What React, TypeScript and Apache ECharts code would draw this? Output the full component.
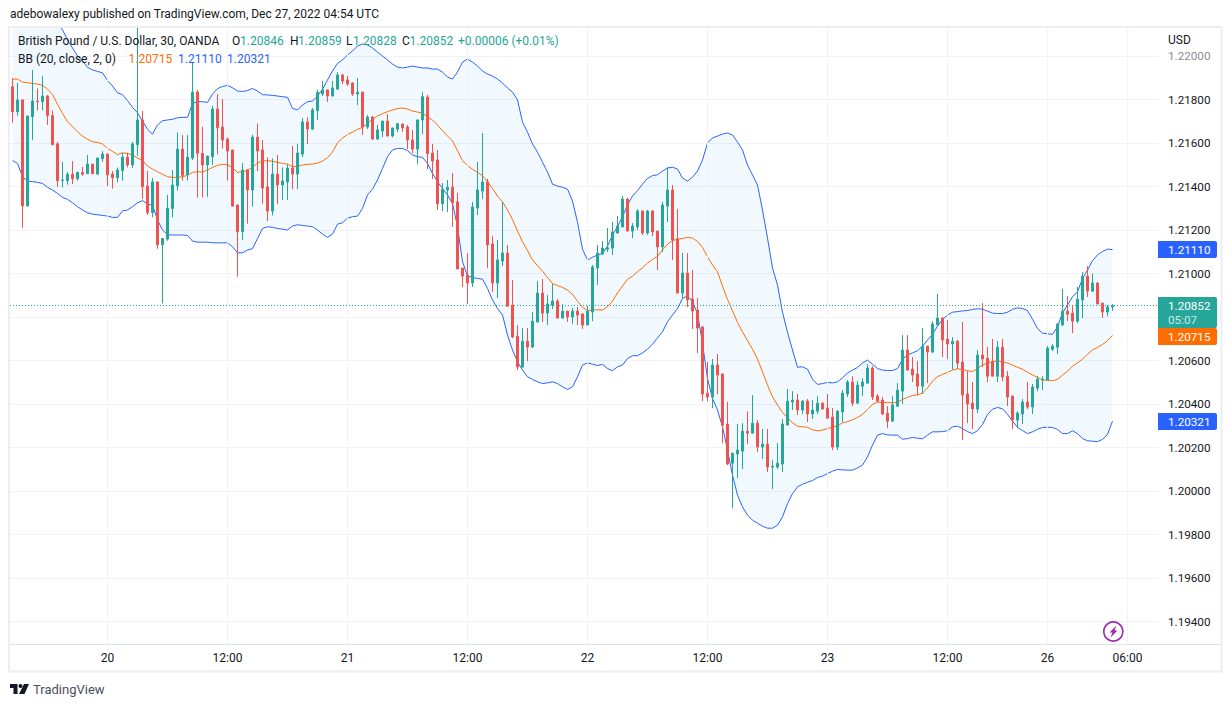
import React, { useEffect, useRef } from "react";
import * as echarts from "echarts";

// All prices are stored as the five digits after "1." scaled: 21859 means 1.21859.
const candles: number[][] = [
  // open, close, low, high
  [21859,21744,21693,21897],[21744,21798,21725,21877],[21798,21311,21210,21800],[21311,21724,21307,21726],[21721,21793,21614,21936],
  [21793,21790,21749,21851],[21790,21816,21749,21908],[21816,21726,21683,21821],[21726,21592,21590,21749],[21596,21427,21398,21605],
  [21427,21430,21395,21513],[21427,21456,21408,21467],[21456,21436,21411,21517],[21436,21465,21427,21468],[21465,21456,21450,21491],
  [21459,21503,21457,21545],[21503,21459,21458,21504],[21457,21531,21453,21532],[21528,21549,21514,21563],[21549,21454,21402,21550],
  [21457,21440,21390,21471],[21440,21476,21419,21487],[21473,21535,21427,21555],[21535,21499,21488,21555],[21499,21596,21486,21605],
  [21592,21706,21540,22140],[21706,21399,21343,21747],[21402,21280,21269,21471],[21280,21421,21258,21439],[21421,21132,21114,21422],
  [21132,21161,20862,21162],[21158,21301,21150,21361],[21299,21407,21258,21476],[21403,21572,21381,21649],[21572,21451,21427,21637],
  [21454,21535,21427,21637],[21531,21834,21522,21972],[21834,21553,21349,21844],[21552,21499,21349,21675],[21499,21540,21353,21541],
  [21537,21756,21499,21770],[21756,21670,21548,21825],[21673,21614,21574,21802],[21618,21563,21427,21626],[21568,21310,21307,21568],
  [21315,21192,20985,21319],[21192,21476,21154,21508],[21476,21384,21229,21480],[21384,21627,21307,21637],[21627,21563,21471,21690],
  [21568,21393,21321,21614],[21398,21287,21241,21534],[21287,21457,21267,21529],[21457,21407,21319,21545],[21407,21425,21338,21488],
  [21421,21485,21338,21503],[21485,21457,21388,21586],[21457,21554,21388,21596],[21549,21697,21535,21715],[21697,21664,21595,21719],
  [21664,21752,21660,21761],[21749,21833,21706,21844],[21825,21844,21816,21885],[21844,21816,21789,21845],[21816,21853,21815,21885],
  [21848,21913,21844,21926],[21913,21885,21871,21917],[21890,21871,21862,21908],[21876,21825,21816,21880],[21825,21834,21775,21899],
  [21834,21673,21637,21835],[21673,21719,21664,21729],[21719,21618,21614,21724],[21618,21660,21614,21683],[21655,21701,21627,21702],
  [21701,21632,21631,21733],[21632,21669,21626,21670],[21664,21689,21651,21692],[21687,21669,21651,21690],[21674,21614,21572,21683],
  [21614,21572,21554,21660],[21572,21706,21503,21708],[21706,21813,21641,21834],[21811,21552,21480,21821],[21554,21517,21434,21596],
  [21522,21320,21292,21568],[21320,21388,21287,21416],[21384,21397,21283,21430],[21397,21324,21214,21462],[21329,21021,21020,21370],
  [21025,20988,20938,21026],[20993,20956,20860,21094],[20956,21306,20938,21329],[21301,21384,21269,21513],[21379,21421,21343,21646],
  [21421,21131,21025,21435],[21136,20956,20915,21172],[20956,21062,20887,21154],[21057,21094,21034,21329],[21094,20850,20849,21131],
  [20855,20708,20703,20970],[20712,20570,20556,20763],[20570,20689,20565,20749],[20689,20662,20597,20749],[20662,20781,20657,20823],
  [20777,20910,20776,20965],[20910,20818,20777,20975],[20818,20860,20763,20901],[20855,20873,20837,20952],[20873,20795,20794,20883],
  [20795,20827,20794,20859],[20827,20800,20777,20828],[20800,20827,20768,20841],[20827,20809,20763,20846],[20814,20763,20745,20818],
  [20763,20827,20762,20850],[20823,21030,20781,21039],[21025,21094,20947,21131],[21090,21117,21085,21149],[21111,21118,21099,21209],
  [21117,21191,21085,21237],[21186,21218,21185,21264],[21214,21342,21213,21356],[21342,21195,21194,21347],[21195,21218,21163,21232],
  [21214,21287,21200,21296],[21287,21186,21177,21288],[21186,21287,21177,21292],[21287,21191,21172,21292],[21195,21122,21016,21196],
  [21122,21315,21099,21329],[21310,21384,21237,21489],[21384,21154,21062,21407],[21159,20910,20909,21296],[20910,21002,20887,21094],
  [21002,20878,20846,21094],[20883,20827,20745,21016],[20832,20749,20634,20887],[20754,20446,20413,20758],[20450,20432,20413,20593],
  [20432,20579,20381,20607],[20579,20533,20445,20630],[20538,20303,20220,20539],[20308,20124,20119,20409],[20128,20174,19921,20175],
  [20170,20188,20059,20308],[20183,20275,20101,20312],[20275,20266,20216,20367],[20266,20312,20265,20441],[20312,20202,20179,20326],
  [20202,20216,20147,20285],[20216,20110,20087,20285],[20110,20114,20009,20142],[20110,20128,20101,20220],[20124,20308,20087,20331],
  [20303,20413,20302,20469],[20409,20418,20372,20459],[20418,20372,20349,20446],[20372,20413,20354,20418],[20413,20354,20317,20423],
  [20354,20372,20331,20418],[20367,20404,20354,20436],[20404,20377,20376,20409],[20381,20335,20334,20446],[20340,20202,20188,20381],
  [20202,20367,20188,20372],[20363,20450,20317,20464],[20446,20501,20432,20510],[20501,20404,20390,20528],[20404,20487,20403,20505],
  [20482,20501,20436,20519],[20496,20565,20495,20584],[20565,20432,20418,20574],[20436,20413,20412,20446],[20418,20354,20349,20432],
  [20358,20321,20289,20390],[20321,20395,20320,20436],[20390,20464,20389,20496],[20459,20648,20400,20717],[20648,20556,20555,20717],
  [20561,20533,20501,20616],[20538,20482,20441,20597],[20482,20666,20446,20749],[20666,20639,20496,20667],[20639,20768,20634,20781],
  [20763,20795,20762,20906],[20795,20694,20616,20800],[20699,20676,20607,20786],[20676,20689,20559,20708],[20689,20588,20561,20694],
  [20593,20441,20234,20777],[20446,20400,20312,20551],[20404,20377,20285,20501],[20377,20625,20358,20648],[20625,20607,20570,20864],
  [20611,20528,20501,20662],[20593,20528,20527,20699],[20528,20661,20501,20689],[20661,20524,20505,20699],[20528,20432,20390,20551],
  [20436,20326,20285,20440],[20326,20358,20289,20367],[20354,20409,20308,20423],[20409,20386,20377,20501],[20386,20478,20354,20492],
  [20473,20514,20459,20528],[20510,20514,20464,20528],[20510,20657,20509,20666],[20652,20666,20643,20675],[20661,20767,20630,20772],
  [20763,20827,20762,20929],[20827,20813,20781,20896],[20818,20781,20726,20855],[20781,20882,20772,20938],[20878,20988,20795,21007],
  [20988,20919,20892,21034],[20919,20956,20915,20998],[20956,20860,20859,20961],[20864,20823,20795,20865],[20823,20846,20804,20855],
  [20846,20852,20828,20859],
];

const bbUpper = [
  22180,22190,22210,22220,22220,22215,22210,22200,22185,22156,22120,22074,22037,22000,
  21978,21948,21936,21929,21923,21887,21862,21831,21822,21795,21764,21739,21702,21663,21641,21683,21702,21706,21709,21716,21718,21718,21782,21790,
  21790,21787,21825,21850,21860,21865,21854,21839,21837,21841,21851,21839,21822,21821,21819,21816,21813,21810,21759,21752,21775,21790,21793,21816,21847,21890,
  21931,21966,21982,22005,22023,22046,22055,22051,22037,22018,22000,21982,21963,21949,21945,21949,21954,21949,21945,21945,21940,21940,21926,21903,21894,21926,21972,21986,21972,21954,21931,21917,21908,21894,21876,21853,21834,21798,21696,21650,21595,21558,21512,21466,21411,21402,21397,21388,21333,21236,21112,21062,21075,21085,
  21092,21126,21177,21215,21261,21315,21356,21381,21411,21437,21450,21454,21471,21485,21489,21480,21439,21425,21443,21471,21522,21600,21623,21632,21641,21646,21637,21604,21568,21499,21453,21407,21292,21163,21025,20947,20822,20730,20648,20569,
  20571,20560,20514,20490,20494,20499,20497,20502,20520,20543,20556,20568,20589,20602,20583,20563,20556,20554,20554,20563,20605,20626,20635,20645,20666,20694,20720,20758,20789,20809,20822,20825,
  20828,20830,20835,20838,20836,20827,20818,20816,20816,20822,20835,20842,20839,20830,20790,20747,20726,20723,20720,20755,20819,20855,20893,20916,20977,21016,21059,21085,21101,21112,21110,
];

const bbBasis = [
  21894,21894,21880,21877,21874,21871,21865,21848,21824,21778,21736,21698,21675,21652,21632,21617,21606,21603,21595,21575,21562,21546,21555,21552,21545,21531,21520,21494,21480,21468,21456,21445,21442,21442,21445,21451,21465,21468,
  21466,21476,21488,21497,21502,21500,21486,21465,21468,21474,21488,21508,21517,21519,21516,21511,21506,21503,21491,21492,21499,21502,21503,21508,21517,21532,21558,21601,21623,21640,21650,21663,21672,21690,21709,21724,21735,21744,21752,21758,
  21761,21756,21747,21742,21738,21719,21706,21683,21656,21632,21609,21565,21519,21496,21479,21465,21450,21422,21391,21356,21330,21292,21249,21195,21146,21105,21062,21036,21011,20982,20954,20945,20936,20924,20904,20873,20844,20830,20832,20833,
  20832,20847,20873,20911,20942,20973,20988,21008,21026,21048,21065,21078,21108,21135,21151,21158,21161,21166,21163,21147,21120,21077,21039,21008,20942,20881,20829,20775,20732,20691,20652,20606,20548,20487,20433,20395,20361,20338,20313,20298,
  20295,20293,20281,20277,20280,20287,20293,20300,20313,20319,20327,20338,20352,20375,20398,20408,20407,20407,20405,20408,20421,20431,20439,20442,20450,20474,20505,20526,20536,20545,20556,20562,
  20559,20553,20549,20563,20579,20589,20595,20598,20595,20588,20579,20569,20560,20546,20534,20522,20511,20508,20507,20513,20533,20551,20574,20589,20606,20629,20649,20660,20674,20691,20715,
];

const bbLower = [
  21520,21506,21445,21425,21422,21419,21414,21396,21384,21368,21350,21341,21325,21307,21292,21279,21273,21270,21267,21264,21258,21258,21288,21292,21307,21325,21335,21319,21313,21246,21200,21178,21177,21177,21177,21175,21149,21144,
  21144,21144,21141,21141,21141,21141,21123,21095,21095,21108,21114,21161,21207,21215,21212,21207,21204,21200,21218,21224,21221,21218,21215,21200,21181,21166,21181,21227,21233,21255,21261,21264,21299,21361,21387,21430,21483,21537,21568,21575,
  21575,21565,21545,21537,21534,21506,21460,21422,21391,21361,21322,21215,21054,20988,20982,20977,20974,20931,20878,20839,20809,20717,20648,20594,20556,20525,20513,20502,20494,20497,20502,20494,20479,20467,20479,20525,20579,20589,20583,20577,
  20582,20563,20553,20571,20579,20609,20622,20622,20635,20652,20675,20704,20732,20778,20809,20839,20885,20898,20870,20816,20678,20517,20425,20372,20295,20188,20073,19981,19927,19889,19866,19852,19838,19829,19829,19843,19881,19942,19988,20019,
  20031,20040,20048,20062,20068,20080,20091,20099,20097,20096,20096,20106,20119,20157,20211,20257,20264,20258,20257,20257,20238,20241,20246,20243,20240,20257,20272,20272,20273,20277,20295,20298,
  20287,20273,20264,20277,20306,20352,20376,20384,20378,20352,20321,20292,20278,20264,20272,20284,20292,20293,20292,20283,20264,20264,20277,20264,20241,20231,20229,20227,20237,20260,20321,
];

const priceTicks = [1.194,1.196,1.198,1.2,1.202,1.204,1.206,1.208,1.21,1.212,1.214,1.216,1.218,1.22];
// 1.20800 sits behind the last-price tag in the reference, so it has a grid line but no label.
const priceLabels = [1.194,1.196,1.198,1.2,1.202,1.204,1.206,1.21,1.212,1.214,1.216,1.218,1.22];
const timeTickBars = [19,43,67,91,115,139,163,187,207,223];
const timeTickLabels = ["20","12:00","21","12:00","22","12:00","23","12:00","26","06:00"];
const barSlots = 230;

const lastClose = 1.20852;
const basisLast = 1.20715;
const upperLast = 1.2111;
const lowerLast = 1.20321;

const toPrice = (n: number) => 1 + n / 100000;

const FONT = "Roboto, Open Sans, sans-serif";
const UP = "#26a69a";
const DOWN = "#ef5350";
const BLUE = "#2962ff";
const ORANGE = "#ff6d00";
const INK = "#131722";
const GRID = "#f0f3fa";

// Plot box in the page
const LEFT = 10, TOP = 28, WIDTH = 1150, BOTTOM_Y = 644;
const PX_PER_UNIT = 21750;
const yMax = 1.22 + (56 - TOP) / PX_PER_UNIT;
const yMin = 1.22 - (BOTTOM_Y - 56) / PX_PER_UNIT;

const txt = (text: string, x: number, y: number, fill: string, extra: any = {}) => ({
  type: "text", x, y, z: 120, silent: true,
  style: { text, fill, font: `${extra.size || 12}px ${FONT}`, textVerticalAlign: "middle", textAlign: extra.align || "left", opacity: extra.opacity ?? 1 },
});

const tag = (y: number, h: number, color: string) => ({
  type: "rect", z: 110, silent: true,
  shape: { x: 1158, y, width: 59, height: h, r: [0, 2, 2, 0] },
  style: { fill: color },
});

export default function App() {
  const ref = useRef<HTMLDivElement>(null);
  useEffect(() => {
    const chart = echarts.init(ref.current!, undefined, { renderer: "svg" });
    const upper = bbUpper.map(toPrice);
    const lower = bbLower.map(toPrice);
    const lineSeries = (name: string, data: number[], color: string) => ({
      name, type: "line", data, symbol: "none", z: 3, silent: true,
      lineStyle: { color, width: 1 }, itemStyle: { color },
    });
    chart.setOption({
      animation: false,
      grid: { left: LEFT, top: TOP, width: WIDTH, height: BOTTOM_Y - TOP, containLabel: false },
      xAxis: {
        type: "category",
        data: Array.from({ length: barSlots }, (_, i) => String(i)),
        boundaryGap: true,
        axisLine: { show: true, lineStyle: { color: "#e0e3eb", width: 1 } },
        axisTick: { show: false },
        splitLine: { show: false },
        axisLabel: {
          margin: 8, color: INK, fontFamily: FONT, fontSize: 12, hideOverlap: false,
          interval: (i: number) => timeTickBars.includes(i),
          formatter: (v: string) => timeTickLabels[timeTickBars.indexOf(Number(v))] ?? "",
        },
      },
      yAxis: {
        type: "value", position: "right", min: yMin, max: yMax, scale: true,
        axisLine: { show: false },
        axisTick: { show: false, customValues: priceTicks },
        splitLine: { show: true, lineStyle: { color: GRID, width: 1 } },
        axisLabel: {
          customValues: priceLabels, margin: 8, fontFamily: FONT, fontSize: 11.7,
          color: (v: any) => (Number(v) >= 1.22 ? "#8a8d96" : INK),
          formatter: (v: number) => Number(v).toFixed(5),
        },
      },
      series: [
        {
          name: "timeGrid", type: "line", data: [], z: 1, silent: true, symbol: "none",
          markLine: {
            silent: true, symbol: "none", animation: false, label: { show: false },
            lineStyle: { color: GRID, width: 1, type: "solid" },
            data: timeTickBars.map((b) => ({ xAxis: b })),
          },
        },
        {
          name: "bandBase", type: "line", stack: "band", data: lower, symbol: "none", z: 2, silent: true,
          lineStyle: { opacity: 0, width: 0 },
        },
        {
          name: "bandFill", type: "line", stack: "band", data: upper.map((u, i) => u - lower[i]), symbol: "none", z: 2, silent: true,
          lineStyle: { opacity: 0, width: 0 }, areaStyle: { color: "rgba(33,150,243,0.06)", opacity: 1 },
        },
        lineSeries("Upper", upper, BLUE),
        lineSeries("Lower", lower, BLUE),
        lineSeries("Basis", bbBasis.map(toPrice), ORANGE),
        {
          name: "GBPUSD", type: "candlestick", z: 5, silent: true, barWidth: 3,
          data: candles.map((c) => c.map(toPrice)),
          itemStyle: { color: UP, color0: DOWN, borderColor: UP, borderColor0: DOWN, borderWidth: 1 },
          markLine: {
            silent: true, symbol: "none", animation: false, label: { show: false }, precision: 5,
            lineStyle: { color: UP, width: 1, type: [1, 2] },
            data: [{ yAxis: lastClose }],
          },
        },
      ],
      graphic: { elements: [
        { type: "rect", z: 90, silent: true, shape: { x: 1158.5, y: 28, width: 2, height: 616 }, style: { fill: "#fff" } },
        { type: "rect", z: 91, silent: true, shape: { x: 9, y: 27, width: 1212.5, height: 644.5 }, style: { fill: "none", stroke: "#eceef4", lineWidth: 2 } },
        { type: "line", z: 91, silent: true, shape: { x1: 1159, y1: 644.5, x2: 1221, y2: 644.5 }, style: { stroke: "#e0e3eb", lineWidth: 1 } },
        txt("adebowalexy published on TradingView.com, Dec 27, 2022 04:54 UTC", 10, 14, INK),
        txt("British Pound / U.S. Dollar, 30, OANDA", 18, 41, INK),
        txt("O", 232, 41, INK), txt("1.20846", 240, 41, UP),
        txt("H", 290, 41, INK), txt("1.20859", 298, 41, UP),
        txt("L", 346, 41, INK), txt("1.20828", 353, 41, UP),
        txt("C", 402, 41, INK), txt("1.20852", 409.5, 41, UP),
        txt("+0.00006 (+0.01%)", 458, 41, UP),
        txt("BB (20, close, 2, 0)", 18, 59, INK),
        txt("1.20715", 128.6, 59, ORANGE),
        txt("1.21110", 178, 59, BLUE),
        txt("1.20321", 227, 59, BLUE),
        txt("USD", 1168, 40, INK),
        tag(241, 17, BLUE),
        tag(297, 31, UP),
        tag(328, 17, ORANGE),
        tag(413, 17, BLUE),
        txt(upperLast.toFixed(5), 1168, 249.5, "#fff", { size: 11.7 }),
        txt(lastClose.toFixed(5), 1168, 305.5, "#fff", { size: 11.7 }),
        txt("05:07", 1168, 320, "#fff", { size: 11.7, opacity: 0.75 }),
        txt(basisLast.toFixed(5), 1168, 336.5, "#fff", { size: 11.7 }),
        txt(lowerLast.toFixed(5), 1168, 421.5, "#fff", { size: 11.7 }),
        { type: "circle", z: 120, silent: true, shape: { cx: 1113.3, cy: 631.5, r: 9.5 }, style: { fill: "none", stroke: "#9c27b0", lineWidth: 1.6 } },
        { type: "polygon", z: 120, silent: true, shape: { points: [[1116.5,625.5],[1109.5,632.5],[1112.5,632.5],[1110.5,637.5],[1117.5,630.5],[1114.5,630.5]] }, style: { fill: "#9c27b0" } },
        { type: "polygon", z: 120, silent: true, shape: { points: [[10,684],[17.5,684],[17.5,694],[13.5,694],[13.5,688],[10,688]] }, style: { fill: INK } },
        { type: "circle", z: 120, silent: true, shape: { cx: 20.5, cy: 686, r: 2 }, style: { fill: INK } },
        { type: "polygon", z: 120, silent: true, shape: { points: [[24,684],[29,684],[24.5,694],[19,694]] }, style: { fill: INK } },
        txt("TradingView", 33, 689, "#4a4e5c", { size: 13 }),
      ] },
    });
    return () => chart.dispose();
  }, []);
  return <div ref={ref} style={{ position: "fixed", left: 0, top: 0, width: 1232, height: 707, background: "#fff" }} />;
}
